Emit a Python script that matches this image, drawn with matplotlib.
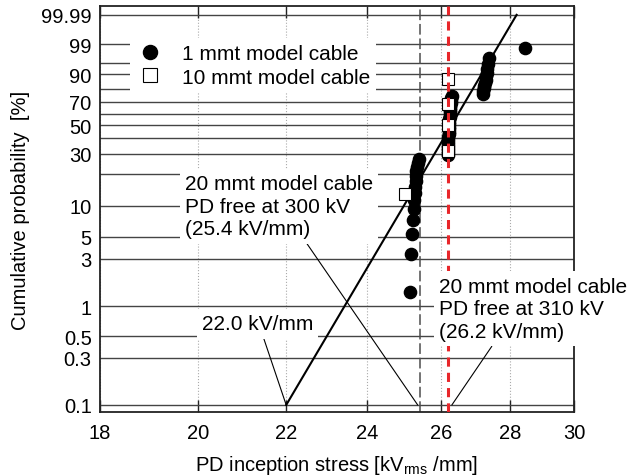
import numpy as np
import matplotlib
matplotlib.use('Agg')
import matplotlib.pyplot as plt
from matplotlib.ticker import FixedLocator, NullLocator, FixedFormatter, NullFormatter

plt.rcParams['font.family'] = ['Liberation Sans', 'DejaVu Sans']
plt.rcParams['mathtext.fontset'] = 'custom'
plt.rcParams['mathtext.rm'] = 'Liberation Sans'

# 1 mmt model cable (stress in kV/mm, cumulative probability in %)
x_1mm_low = [25.15, 25.18, 25.20, 25.23, 25.25, 25.26, 25.27, 25.28, 25.29, 25.30, 25.31, 25.33, 25.35, 25.38]
p_1mm_low = [1.39, 3.37, 5.36, 7.34, 9.33, 11.31, 13.29, 15.28, 17.26, 19.25, 21.23, 23.21, 25.20, 27.18]
x_1mm_mid = [26.18, 26.18, 26.19, 26.19, 26.20, 26.20, 26.20, 26.21, 26.21, 26.22, 26.22, 26.22,
             26.23, 26.23, 26.24, 26.24, 26.25, 26.25, 26.26, 26.26, 26.27, 26.28, 26.29, 26.30]
p_1mm_mid = [29.17, 31.15, 33.13, 35.12, 37.10, 39.09, 41.07, 43.06, 45.04, 47.02, 49.01, 50.99,
             52.98, 54.96, 56.94, 58.93, 60.91, 62.90, 64.88, 66.87, 68.85, 70.83, 72.82, 74.80]
x_1mm_high = [27.19, 27.20, 27.22, 27.24, 27.26, 27.28, 27.30, 27.31, 27.33, 27.35, 27.37, 28.45]
p_1mm_high = [76.79, 78.77, 80.75, 82.74, 84.72, 86.71, 88.69, 90.67, 92.66, 94.64, 96.63, 98.61]

# 10 mmt model cable
x_10mm = [25.0, 26.2, 26.2, 26.2, 26.2]
p_10mm = [12.96, 31.5, 50.0, 68.5, 87.0]

# fitted line end points
fit_x = [22.0, 28.2]
fit_p = [0.1, 99.99]

pd_free_20mm_300kv = 25.4
pd_free_20mm_310kv = 26.2

x_ticks = [18, 20, 22, 24, 26, 28, 30]
y_ticks = [0.1, 0.3, 0.5, 1, 3, 5, 10, 30, 50, 70, 90, 99, 99.99]
y_tick_labels = ['0.1', '0.3', '0.5', '1', '3', '5', '10', '30', '50', '70', '90', '99', '99.99']
y_minor = [20, 40, 60, 80, 95]


# Weibull probability scale
def weib(p):
    q = np.clip(np.asarray(p, dtype=float) / 100.0, 1e-12, 1 - 1e-12)
    return np.log(-np.log(1 - q))


def weib_inv(y):
    return 100.0 * (1 - np.exp(-np.exp(np.asarray(y, dtype=float))))


fs_tick = 14.5
fs_txt = 15
fig = plt.figure(figsize=(6.3, 4.77), dpi=100)
ax = fig.add_axes([0.1587, 0.1342, 0.7524, 0.8511])

ax.set_xscale('log')
ax.set_yscale('function', functions=(weib, weib_inv))
ax.set_xlim(18, 30)
ax.set_ylim(0.0849, 99.9988)

x_all = x_1mm_low + x_1mm_mid + x_1mm_high
p_all = p_1mm_low + p_1mm_mid + p_1mm_high

ax.plot(fit_x, fit_p, color='black', lw=1.5, zorder=3)
ax.axvline(pd_free_20mm_300kv, color='#4d4d4d', lw=1.1, ls=(0, (7, 2.5)), zorder=2)
ax.plot(x_all, p_all, ls='none', marker='o', ms=8.8, color='black', mec='black',
        zorder=3.2, label='1 mmt model cable')
ax.plot(x_10mm, p_10mm, ls='none', marker='s', ms=8.2, mfc='white', mec='black', mew=0.8,
        zorder=3.4, label='10 mmt model cable')
ax.axvline(pd_free_20mm_310kv, color='#e8262a', lw=2.2, ls=(0, (3, 2)), zorder=3.6)

# axes / ticks
ax.xaxis.set_major_locator(FixedLocator(x_ticks))
ax.xaxis.set_major_formatter(FixedFormatter([str(t) for t in x_ticks]))
ax.xaxis.set_minor_locator(NullLocator())
ax.xaxis.set_minor_formatter(NullFormatter())
ax.yaxis.set_major_locator(FixedLocator(y_ticks))
ax.yaxis.set_major_formatter(FixedFormatter(y_tick_labels))
ax.yaxis.set_minor_locator(FixedLocator(y_minor))
ax.yaxis.set_minor_formatter(NullFormatter())

ax.tick_params(axis='x', which='major', direction='in', top=True, length=8.5, width=1.0,
               pad=8, labelsize=fs_tick, color='#222222')
ax.tick_params(axis='y', which='both', length=0, pad=6, labelsize=fs_tick)

ax.grid(True, axis='y', which='both', color='#444444', lw=1.0, zorder=1)
ax.grid(True, axis='x', which='major', color='#aaaaaa', lw=0.8, ls=':', zorder=1)
ax.set_axisbelow(True)

for s in ax.spines.values():
    s.set_linewidth(1.3)
    s.set_color('#222222')

ax.set_xlabel(r'PD inception stress [kV$_{\rm rms}$ /mm]', fontsize=fs_tick, labelpad=8)
ax.set_ylabel('Cumulative probability  [%]', fontsize=fs_tick, labelpad=8)

leg = ax.legend(loc='upper left', bbox_to_anchor=(0.063, 0.921), borderaxespad=0,
                borderpad=0.3, handlelength=1.3, handletextpad=0.9, labelspacing=0.2,
                frameon=True, fancybox=False, edgecolor='none', facecolor='white',
                framealpha=1, fontsize=fs_txt, numpoints=1, markerscale=1.15)
leg.set_zorder(6)

box = dict(boxstyle='square,pad=0.25', fc='white', ec='none')
arr = dict(arrowstyle='-', color='black', lw=0.8, shrinkA=0, shrinkB=0)

ax.annotate('20 mmt model cable\nPD free at 300 kV\n(25.4 kV/mm)',
            xy=(25.35, 0.1), xycoords='data',
            xytext=(0.179, 0.507), textcoords='axes fraction',
            ha='left', va='center', fontsize=fs_txt, linespacing=1.25, bbox=box,
            arrowprops=dict(arr, relpos=(0.63, 0)), zorder=6, annotation_clip=False)
ax.annotate('20 mmt model cable\nPD free at 310 kV\n(26.2 kV/mm)',
            xy=(26.3, 0.1), xycoords='data',
            xytext=(0.715, 0.254), textcoords='axes fraction',
            ha='left', va='center', fontsize=fs_txt, linespacing=1.25, bbox=box,
            arrowprops=dict(arr, relpos=(0.30, 0)), zorder=6, annotation_clip=False)
ax.annotate('22.0 kV/mm',
            xy=(22.0, 0.1), xycoords='data',
            xytext=(0.215, 0.217), textcoords='axes fraction',
            ha='left', va='center', fontsize=fs_txt, bbox=dict(box, pad=0.05),
            arrowprops=dict(arr, relpos=(0.54, 0)), zorder=6, annotation_clip=False)

fig.savefig('out.png', dpi=100)
